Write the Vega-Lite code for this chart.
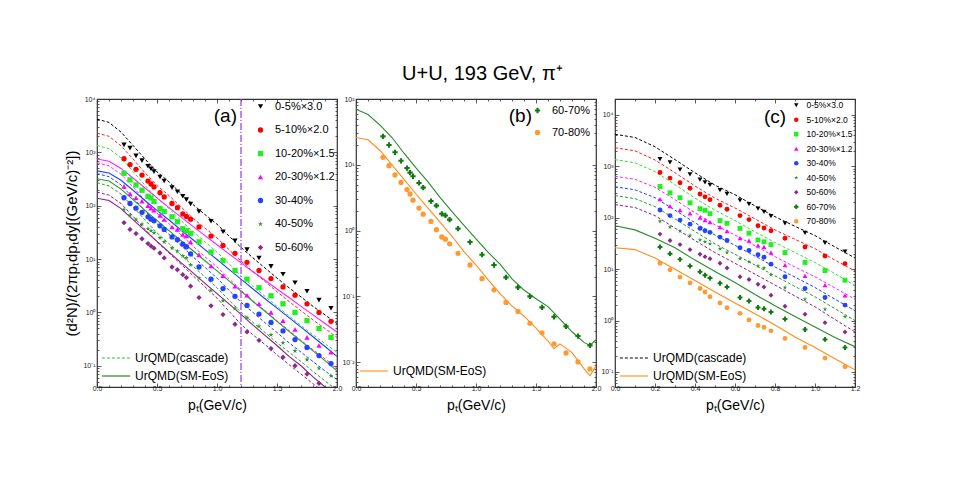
{
"$schema": "https://vega.github.io/schema/vega-lite/v6.json",
"autosize": {"type": "pad"},
"padding": {"left": 64, "top": 64, "right": 0, "bottom": 0},
"title": {"text": "U+U, 193 GeV,  π⁺", "fontSize": 20, "fontWeight": "normal", "font": "Liberation Sans", "anchor": "middle", "offset": 10, "dx": 20, "color": "#000000"},
"datasets": {
"cents": [{"k":"c1","cent":"0-5%×3.0"},{"k":"c2","cent":"5-10%×2.0"},{"k":"c3","cent":"10-20%×1.5"},{"k":"c4","cent":"20-30%×1.2"},{"k":"c5","cent":"30-40%"},{"k":"c6","cent":"40-50%"},{"k":"c7","cent":"50-60%"},{"k":"c8","cent":"60-70%"},{"k":"c9","cent":"70-80%"}],
"pts": [
{"p":0.225,"c1":1380,"c2":760,"c3":405,"c4":230,"c5":141,"c6":85,"c7":48,"c8":27,"c9":13},
{"p":0.275,"c1":1200,"c2":590,"c3":305,"c4":168,"c5":110,"c6":66,"c7":36,"c8":20,"c9":9.7},
{"p":0.325,"c1":860,"c2":480,"c3":245,"c4":141,"c5":90,"c6":55,"c7":30,"c8":15.5,"c9":7.0},
{"p":0.375,"c1":700,"c2":375,"c3":195,"c4":122,"c5":75,"c6":45,"c7":24,"c8":11.5,"c9":5.4},
{"p":0.425,"c1":550,"c2":290,"c3":150,"c4":100,"c5":62,"c6":37,"c7":19.5,"c8":8.9,"c9":4.2},
{"p":0.45,"c1":490,"c2":255,"c3":140,"c4":90,"c5":56,"c6":34,"c7":17.5,"c8":7.6,"c9":3.6},
{"p":0.475,"c1":435,"c2":225,"c3":120,"c4":82,"c5":52,"c6":31,"c7":16,"c8":6.7,"c9":2.9},
{"p":0.525,"c1":345,"c2":175,"c3":88,"c4":66,"c5":42,"c6":25,"c7":13,"c8":5.3,"c9":2.2},
{"p":0.56,"c1":290,"c2":146,"c3":78,"c4":55,"c5":36,"c6":21,"c7":10.5,"c8":4.5,"c9":1.78},
{"p":0.625,"c1":218,"c2":110,"c3":62,"c4":40,"c5":26,"c6":16,"c7":7.1,"c8":2.8,"c9":1.38},
{"p":0.67,"c1":183,"c2":92,"c3":50,"c4":36,"c5":23,"c6":14,"c7":6.3,"c8":2.4,"c9":1.03},
{"p":0.715,"c1":150,"c2":70,"c3":37,"c4":29,"c5":19,"c6":11.5,"c7":5.1,"c8":1.8,"c9":0.8},
{"p":0.745,"c1":130,"c2":63,"c3":34,"c4":27,"c5":17,"c6":10.5,"c7":4.5,"c8":1.7,"c9":0.74},
{"p":0.78,"c1":108,"c2":56,"c3":30,"c4":21,"c5":12.5,"c6":7.8,"c7":3.1,"c8":1.47,"c9":0.63},
{"p":0.85,"c1":78,"c2":40,"c3":21,"c4":12,"c5":7.1,"c6":4.4,"c7":1.9,"c8":1.07,"c9":0.45},
{"p":0.95,"c1":51,"c2":27,"c3":13.5,"c4":7.4,"c5":4.2,"c6":2.6,"c7":1.33,"c8":0.67,"c9":0.3},
{"p":1.05,"c1":32.5,"c2":18,"c3":9.4,"c4":4.9,"c5":2.8,"c6":1.66,"c7":0.91,"c8":0.43,"c9":0.186},
{"p":1.15,"c1":22,"c2":12.8,"c3":6.1,"c4":3.1,"c5":2.0,"c6":1.19,"c7":0.6,"c8":0.3,"c9":0.126},
{"p":1.25,"c1":15,"c2":8.7,"c3":4.2,"c4":2.1,"c5":1.35,"c6":0.8,"c7":0.43,"c8":0.195,"c9":0.081},
{"p":1.35,"c1":10.5,"c2":6.1,"c3":2.9,"c4":1.45,"c5":0.93,"c6":0.55,"c7":0.3,"c8":0.137,"c9":0.059},
{"p":1.45,"c1":7.3,"c2":4.3,"c3":2.05,"c4":1.0,"c5":0.65,"c6":0.38,"c7":0.21,"c8":0.1,"c9":0.039},
{"p":1.55,"c1":5.2,"c2":3.0,"c3":1.45,"c4":0.7,"c5":0.45,"c6":0.27,"c7":0.145,"c8":0.068,"c9":0.028},
{"p":1.65,"c1":3.6,"c2":2.1,"c3":1.0,"c4":0.48,"c5":0.31,"c6":0.19,"c7":0.1,"c8":0.049,"c9":0.019},
{"p":1.75,"c1":2.5,"c2":1.45,"c3":0.7,"c4":0.34,"c5":0.22,"c6":0.13,"c7":0.07,"c8":0.035,"c9":0.0138},
{"p":1.85,"c1":1.7,"c2":1.0,"c3":0.5,"c4":0.24,"c5":0.155,"c6":0.09,"c7":0.047,"c8":0.025,"c9":0.0101},
{"p":1.95,"c1":1.2,"c2":0.68,"c3":0.34,"c4":0.18,"c5":0.11,"c6":0.065,"c7":0.035,"c8":0.018,"c9":0.0079}
],
"casc": [
{"p":0,"c1":4200,"c2":2300,"c3":1350,"c4":640,"c5":400,"c6":270,"c7":180},
{"p":0.1,"c1":3640,"c2":2000,"c3":1170,"c4":560,"c5":350,"c6":235,"c7":158},
{"p":0.2,"c1":2400,"c2":1330,"c3":790,"c4":390,"c5":245,"c6":165,"c7":110},
{"p":0.3,"c1":1350,"c2":750,"c3":440,"c4":225,"c5":140,"c6":95,"c7":63},
{"p":0.4,"c1":750,"c2":415,"c3":240,"c4":125,"c5":80,"c6":54,"c7":36},
{"p":0.5,"c1":430,"c2":240,"c3":140,"c4":73,"c5":46,"c6":31,"c7":21},
{"p":0.6,"c1":280,"c2":155,"c3":88,"c4":46,"c5":29,"c6":19.5,"c7":13},
{"p":0.7,"c1":170,"c2":95,"c3":53,"c4":28.5,"c5":18,"c6":12,"c7":8},
{"p":0.8,"c1":105,"c2":58,"c3":33,"c4":17.5,"c5":11,"c6":7.4,"c7":4.9},
{"p":0.9,"c1":68,"c2":38,"c3":21,"c4":11,"c5":7,"c6":4.6,"c7":3.0},
{"p":1.0,"c1":45,"c2":25,"c3":13.5,"c4":7.1,"c5":4.4,"c6":2.9,"c7":1.85},
{"p":1.1,"c1":27,"c2":15,"c3":8.2,"c4":4.3,"c5":2.6,"c6":1.7,"c7":1.05},
{"p":1.2,"c1":16.5,"c2":9.2,"c3":4.8,"c4":2.6,"c5":1.55,"c6":1.0,"c7":0.6},
{"p":1.3,"c1":10.5,"c2":5.8,"c3":3.1,"c4":1.65,"c5":1.0,"c6":0.65,"c7":0.38},
{"p":1.4,"c1":6.8,"c2":3.8,"c3":2.0,"c4":1.08,"c5":0.64,"c6":0.42,"c7":0.25},
{"p":1.5,"c1":4.4,"c2":2.45,"c3":1.3,"c4":0.7,"c5":0.42,"c6":0.27,"c7":0.16},
{"p":1.6,"c1":2.9,"c2":1.6,"c3":0.86,"c4":0.46,"c5":0.27,"c6":0.18,"c7":0.105},
{"p":1.7,"c1":1.95,"c2":1.08,"c3":0.57,"c4":0.3,"c5":0.18,"c6":0.12,"c7":0.07},
{"p":1.8,"c1":1.3,"c2":0.72,"c3":0.38,"c4":0.2,"c5":0.12,"c6":0.078,"c7":0.046},
{"p":1.9,"c1":0.9,"c2":0.5,"c3":0.26,"c4":0.135,"c5":0.08,"c6":0.052,"c7":0.031},
{"p":2.0,"c1":0.62,"c2":0.34,"c3":0.18,"c4":0.09,"c5":0.055,"c6":0.035,"c7":0.02}
],
"sm": [
{"p":0,"c4":750,"c5":450,"c6":320,"c7":138,"c8":70,"c9":26},
{"p":0.1,"c4":680,"c5":410,"c6":290,"c7":125,"c8":58,"c9":24},
{"p":0.2,"c4":500,"c5":300,"c6":205,"c7":88,"c8":40,"c9":16.5},
{"p":0.3,"c4":330,"c5":195,"c6":130,"c7":55,"c8":26,"c9":10},
{"p":0.4,"c4":215,"c5":125,"c6":82,"c7":34,"c8":15,"c9":6.0},
{"p":0.5,"c4":140,"c5":82,"c6":53,"c7":21.5,"c8":9,"c9":3.6},
{"p":0.6,"c4":92,"c5":54,"c6":34,"c7":13.5,"c8":5.5,"c9":2.2},
{"p":0.7,"c4":61,"c5":35,"c6":22,"c7":8.6,"c8":3.2,"c9":1.35},
{"p":0.8,"c4":41,"c5":23,"c6":14.3,"c7":5.5,"c8":1.95,"c9":0.82},
{"p":0.9,"c4":27.5,"c5":15,"c6":9.3,"c7":3.5,"c8":1.2,"c9":0.48},
{"p":1.0,"c4":18.5,"c5":9.8,"c6":6.0,"c7":2.25,"c8":0.75,"c9":0.3},
{"p":1.1,"c4":12.5,"c5":6.4,"c6":3.9,"c7":1.45,"c8":0.47,"c9":0.18},
{"p":1.2,"c4":8.5,"c5":4.2,"c6":2.5,"c7":0.92,"c8":0.31,"c9":0.11},
{"p":1.3,"c4":5.8,"c5":2.75,"c6":1.6,"c7":0.58,"c8":0.185,"c9":0.072},
{"p":1.4,"c4":4.0,"c5":1.8,"c6":1.05,"c7":0.37,"c8":0.125,"c9":0.05},
{"p":1.5,"c4":2.75,"c5":1.2,"c6":0.68,"c7":0.24,"c8":0.092,"c9":0.033},
{"p":1.6,"c4":1.9,"c5":0.8,"c6":0.44,"c7":0.15,"c8":0.07,"c9":0.021},
{"p":1.65,"c9":0.016},
{"p":1.7,"c4":1.3,"c5":0.53,"c6":0.29,"c7":0.1,"c8":0.045,"c9":0.019},
{"p":1.8,"c4":0.9,"c5":0.35,"c6":0.19,"c7":0.062,"c8":0.029,"c9":0.014},
{"p":1.9,"c4":0.62,"c5":0.23,"c6":0.125,"c7":0.04,"c8":0.02,"c9":0.008},
{"p":1.95,"c8":0.018,"c9":0.0062},
{"p":2.0,"c4":0.43,"c5":0.15,"c6":0.08,"c7":0.026,"c8":0.022,"c9":0.0088}
]
},
"spacing": 19,
"bounds": "flush",
"resolve": {"scale": {"color": "independent", "shape": "independent", "stroke": "independent", "strokeDash": "independent", "strokeWidth": "independent"}, "legend": {"color": "independent", "shape": "independent", "stroke": "independent", "strokeDash": "independent", "strokeWidth": "independent"}},
"hconcat": [
{
"width": 240, "height": 288,
"resolve": {"axis": {"x": "independent", "y": "independent"}},
"layer": [
{
"data": {"name": "casc"},
"transform": [{"fold": ["c1","c2","c3","c4","c5","c6","c7"], "as": ["k","v"]}, {"filter": "isValid(datum.v)"}, {"lookup": "k", "from": {"data": {"name": "cents"}, "key": "k", "fields": ["cent"]}}],
"mark": {"type": "line", "strokeWidth": 1, "clip": true},
"encoding": {
"x": {"field": "p", "type": "quantitative", "scale": {"domain": [0, 2], "nice": false, "zero": false}, "axis": {"orient": "top", "values": [0,0.1,0.2,0.3,0.4,0.5,0.6,0.7,0.8,0.9,1,1.1,1.2,1.3,1.4,1.5,1.6,1.7,1.8,1.9,2], "labels": false, "title": null, "tickSize": {"condition": {"test": "abs(datum.value*2-round(datum.value*2))<0.001", "value": -4}, "value": -2}}},
"y": {"field": "v", "type": "quantitative", "scale": {"type": "log", "domain": [0.04, 10000], "nice": false}, "axis": {"orient": "right", "values": [0.04,0.05,0.06,0.07,0.08,0.09,0.1,0.2,0.3,0.4,0.5,0.6,0.7,0.8,0.9,1,2,3,4,5,6,7,8,9,10,20,30,40,50,60,70,80,90,100,200,300,400,500,600,700,800,900,1000,2000,3000,4000,5000,6000,7000,8000,9000,10000], "labels": false, "title": null, "tickSize": {"condition": {"test": "indexof([0.01,0.1,1,10,100,1000,10000],datum.value)>=0", "value": -4}, "value": -2}}},
"stroke": {"field": "cent", "type": "nominal", "scale": {"domain": ["50-60%","40-50%","30-40%","20-30%×1.2","10-20%×1.5","5-10%×2.0","0-5%×3.0"], "range": ["#8a208a","#2a9a2a","#2040ff","#ff22ff","#33e033","#ff2020","#000000"]}, "legend": null},
"strokeDash": {"datum": "UrQMD(cascade)", "scale": {"domain": ["UrQMD(cascade)"], "range": [[3,2]]}, "legend": {"orient": "none", "legendX": 4, "legendY": 244, "title": null, "labelFontSize": 12, "symbolType": "stroke", "symbolSize": 800, "symbolStrokeColor": "#2eb82e", "symbolStrokeWidth": 1.2, "padding": 0}}
}
},
{
"data": {"name": "sm"},
"transform": [{"fold": ["c4","c5","c6","c7"], "as": ["k","v"]}, {"filter": "isValid(datum.v)"}, {"lookup": "k", "from": {"data": {"name": "cents"}, "key": "k", "fields": ["cent"]}}],
"mark": {"type": "line", "clip": true},
"encoding": {
"x": {"field": "p", "type": "quantitative", "scale": {"domain": [0, 2], "nice": false, "zero": false}, "axis": null},
"y": {"field": "v", "type": "quantitative", "scale": {"type": "log", "domain": [0.04, 10000], "nice": false}, "axis": null},
"stroke": {"field": "cent", "type": "nominal", "scale": {"domain": ["50-60%","40-50%","30-40%","20-30%×1.2","10-20%×1.5","5-10%×2.0","0-5%×3.0"], "range": ["#8a208a","#2a9a2a","#2040ff","#ff22ff","#33e033","#ff2020","#000000"]}, "legend": null},
"strokeWidth": {"datum": "UrQMD(SM-EoS)", "scale": {"domain": ["UrQMD(SM-EoS)"], "range": [1.1, 1.1]}, "legend": {"orient": "none", "legendX": 4, "legendY": 262, "title": null, "labelFontSize": 12, "symbolType": "stroke", "symbolSize": 800, "symbolStrokeColor": "#1a7a1a", "padding": 0}}
}
},
{
"data": {"name": "pts"},
"transform": [{"fold": ["c1","c2","c3","c4","c5","c6","c7"], "as": ["k","v"]}, {"filter": "isValid(datum.v)"}, {"lookup": "k", "from": {"data": {"name": "cents"}, "key": "k", "fields": ["cent"]}}],
"mark": {"type": "point", "filled": true, "size": 28, "opacity": 1, "clip": true},
"encoding": {
"x": {"field": "p", "type": "quantitative", "scale": {"domain": [0, 2], "nice": false, "zero": false}, "axis": {"orient": "bottom", "values": [0,0.1,0.2,0.3,0.4,0.5,0.6,0.7,0.8,0.9,1,1.1,1.2,1.3,1.4,1.5,1.6,1.7,1.8,1.9,2], "labelExpr": "abs(datum.value*2-round(datum.value*2))<0.001 ? format(datum.value,'.1f') : ''", "labelFlush": false, "labelOverlap": false, "labelFontSize": 7, "labelPadding": 1, "tickSize": {"condition": {"test": "abs(datum.value*2-round(datum.value*2))<0.001", "value": -4}, "value": -2}, "title": "pₜ(GeV/c)", "titleFontSize": 14, "titleFontWeight": "normal", "titlePadding": 5}},
"y": {"field": "v", "type": "quantitative", "scale": {"type": "log", "domain": [0.04, 10000], "nice": false}, "axis": {"orient": "left", "values": [0.04,0.05,0.06,0.07,0.08,0.09,0.1,0.2,0.3,0.4,0.5,0.6,0.7,0.8,0.9,1,2,3,4,5,6,7,8,9,10,20,30,40,50,60,70,80,90,100,200,300,400,500,600,700,800,900,1000,2000,3000,4000,5000,6000,7000,8000,9000,10000], "labelExpr": "indexof([0.01,0.1,1,10,100,1000,10000],datum.value)<0?'':datum.value>=10000?'10⁴':datum.value>=1000?'10³':datum.value>=100?'10²':datum.value>=10?'10¹':datum.value>=1?'10⁰':datum.value>=0.1?'10⁻¹':'10⁻²'", "labelOverlap": false, "labelFontSize": 7, "labelPadding": 6, "tickSize": {"condition": {"test": "indexof([0.01,0.1,1,10,100,1000,10000],datum.value)>=0", "value": -4}, "value": -2}, "title": "(d²N)/(2πpₜdpₜdy[(GeV/c)⁻²])", "titleFontSize": 15, "titleFontWeight": "normal", "titlePadding": 3}},
"color": {"field": "cent", "type": "nominal", "scale": {"domain": ["0-5%×3.0","5-10%×2.0","10-20%×1.5","20-30%×1.2","30-40%","40-50%","50-60%"], "range": ["#000000","#ff0000","#22ee22","#ff00ff","#2244ff","#2a9a2a","#8b2a8b"]}, "legend": {"orient": "top-right", "title": null, "labelFontSize": 11, "symbolSize": 28, "rowPadding": 11.5, "offset": 2, "padding": 0, "labelOffset": 9}},
"shape": {"field": "cent", "type": "nominal", "scale": {"domain": ["0-5%×3.0","5-10%×2.0","10-20%×1.5","20-30%×1.2","30-40%","40-50%","50-60%"], "range": ["triangle-down","circle","square","triangle-up","circle","M0,-1L0.2245,-0.309L0.951,-0.309L0.363,0.118L0.588,0.809L0,0.382L-0.588,0.809L-0.363,0.118L-0.951,-0.309L-0.2245,-0.309Z","diamond"]}, "legend": {"orient": "top-right", "title": null, "labelFontSize": 11, "symbolSize": 28, "rowPadding": 11.5, "offset": 2, "padding": 0, "labelOffset": 9}}
}
},
{
"data": {"values": [{}]},
"mark": {"type": "rule", "color": "#9933ff", "strokeWidth": 1.2, "strokeDash": [7,2,1,2]},
"encoding": {"x": {"datum": 1.2, "type": "quantitative", "scale": {"domain": [0, 2], "nice": false, "zero": false}, "axis": null}}
},
{
"data": {"values": [{}]},
"mark": {"type": "text", "fontSize": 19, "font": "Liberation Sans", "text": "(a)"},
"encoding": {"x": {"datum": 1.07, "type": "quantitative", "scale": {"domain": [0, 2], "nice": false, "zero": false}, "axis": null}, "y": {"datum": 4700, "type": "quantitative", "scale": {"type": "log", "domain": [0.04, 10000], "nice": false}, "axis": null}}
}
]
},
{
"width": 240, "height": 288,
"resolve": {"axis": {"x": "independent", "y": "independent"}},
"layer": [
{
"data": {"name": "sm"},
"transform": [{"fold": ["c8","c9"], "as": ["k","v"]}, {"filter": "isValid(datum.v)"}, {"lookup": "k", "from": {"data": {"name": "cents"}, "key": "k", "fields": ["cent"]}}],
"mark": {"type": "line", "clip": true},
"encoding": {
"x": {"field": "p", "type": "quantitative", "scale": {"domain": [0, 2], "nice": false, "zero": false}, "axis": {"orient": "top", "values": [0,0.1,0.2,0.3,0.4,0.5,0.6,0.7,0.8,0.9,1,1.1,1.2,1.3,1.4,1.5,1.6,1.7,1.8,1.9,2], "labels": false, "title": null, "tickSize": {"condition": {"test": "abs(datum.value*2-round(datum.value*2))<0.001", "value": -4}, "value": -2}}},
"y": {"field": "v", "type": "quantitative", "scale": {"type": "log", "domain": [0.0042, 100], "nice": false}, "axis": {"orient": "right", "values": [0.005,0.006,0.007,0.008,0.009,0.01,0.02,0.03,0.04,0.05,0.06,0.07,0.08,0.09,0.1,0.2,0.3,0.4,0.5,0.6,0.7,0.8,0.9,1,2,3,4,5,6,7,8,9,10,20,30,40,50,60,70,80,90,100], "labels": false, "title": null, "tickSize": {"condition": {"test": "indexof([0.01,0.1,1,10,100,1000,10000],datum.value)>=0", "value": -4}, "value": -2}}},
"stroke": {"field": "cent", "type": "nominal", "scale": {"domain": ["70-80%","60-70%"], "range": ["#ff8c1a","#2a8a2a"]}, "legend": null},
"strokeWidth": {"datum": "UrQMD(SM-EoS)", "scale": {"domain": ["UrQMD(SM-EoS)"], "range": [1.1, 1.1]}, "legend": {"orient": "none", "legendX": 3, "legendY": 257, "title": null, "labelFontSize": 12, "symbolType": "stroke", "symbolSize": 800, "symbolStrokeColor": "#ff8c1a", "padding": 0}}
}
},
{
"data": {"name": "pts"},
"transform": [{"fold": ["c8","c9"], "as": ["k","v"]}, {"filter": "isValid(datum.v)"}, {"lookup": "k", "from": {"data": {"name": "cents"}, "key": "k", "fields": ["cent"]}}],
"mark": {"type": "point", "filled": true, "size": 28, "opacity": 1, "clip": true},
"encoding": {
"x": {"field": "p", "type": "quantitative", "scale": {"domain": [0, 2], "nice": false, "zero": false}, "axis": {"orient": "bottom", "values": [0,0.1,0.2,0.3,0.4,0.5,0.6,0.7,0.8,0.9,1,1.1,1.2,1.3,1.4,1.5,1.6,1.7,1.8,1.9,2], "labelExpr": "abs(datum.value*2-round(datum.value*2))<0.001 ? format(datum.value,'.1f') : ''", "labelFlush": false, "labelOverlap": false, "labelFontSize": 7, "labelPadding": 1, "tickSize": {"condition": {"test": "abs(datum.value*2-round(datum.value*2))<0.001", "value": -4}, "value": -2}, "title": "pₜ(GeV/c)", "titleFontSize": 14, "titleFontWeight": "normal", "titlePadding": 5}},
"y": {"field": "v", "type": "quantitative", "scale": {"type": "log", "domain": [0.0042, 100], "nice": false}, "axis": {"orient": "left", "values": [0.005,0.006,0.007,0.008,0.009,0.01,0.02,0.03,0.04,0.05,0.06,0.07,0.08,0.09,0.1,0.2,0.3,0.4,0.5,0.6,0.7,0.8,0.9,1,2,3,4,5,6,7,8,9,10,20,30,40,50,60,70,80,90,100], "labelExpr": "indexof([0.01,0.1,1,10,100,1000,10000],datum.value)<0?'':datum.value>=10000?'10⁴':datum.value>=1000?'10³':datum.value>=100?'10²':datum.value>=10?'10¹':datum.value>=1?'10⁰':datum.value>=0.1?'10⁻¹':'10⁻²'", "labelOverlap": false, "labelFontSize": 7, "labelPadding": 6, "tickSize": {"condition": {"test": "indexof([0.01,0.1,1,10,100,1000,10000],datum.value)>=0", "value": -4}, "value": -2}, "title": null}},
"color": {"field": "cent", "type": "nominal", "scale": {"domain": ["60-70%","70-80%"], "range": ["#117a11","#ff9a33"]}, "legend": {"orient": "top-right", "title": null, "labelFontSize": 11, "symbolSize": 28, "rowPadding": 10, "offset": 6, "padding": 0, "labelOffset": 9}},
"shape": {"field": "cent", "type": "nominal", "scale": {"domain": ["60-70%","70-80%"], "range": ["cross","circle"]}, "legend": {"orient": "top-right", "title": null, "labelFontSize": 11, "symbolSize": 28, "rowPadding": 10, "offset": 6, "padding": 0, "labelOffset": 9}}
}
},
{
"data": {"values": [{}]},
"mark": {"type": "text", "fontSize": 19, "font": "Liberation Sans", "text": "(b)"},
"encoding": {"x": {"datum": 1.37, "type": "quantitative", "scale": {"domain": [0, 2], "nice": false, "zero": false}, "axis": null}, "y": {"datum": 55, "type": "quantitative", "scale": {"type": "log", "domain": [0.0042, 100], "nice": false}, "axis": null}}
}
]
},
{
"width": 240, "height": 288,
"resolve": {"axis": {"x": "independent", "y": "independent"}},
"layer": [
{
"data": {"name": "casc"},
"transform": [{"filter": "datum.p <= 1.2"}, {"fold": ["c1","c2","c3","c4","c5","c6","c7"], "as": ["k","v"]}, {"filter": "isValid(datum.v)"}, {"lookup": "k", "from": {"data": {"name": "cents"}, "key": "k", "fields": ["cent"]}}],
"mark": {"type": "line", "strokeWidth": 1, "clip": true},
"encoding": {
"x": {"field": "p", "type": "quantitative", "scale": {"domain": [0, 1.2], "nice": false, "zero": false}, "axis": {"orient": "top", "values": [0,0.1,0.2,0.3,0.4,0.5,0.6,0.7,0.8,0.9,1,1.1,1.2], "labels": false, "title": null, "tickSize": {"condition": {"test": "abs(datum.value*5-round(datum.value*5))<0.001", "value": -4}, "value": -2}}},
"y": {"field": "v", "type": "quantitative", "scale": {"type": "log", "domain": [0.051, 20400], "nice": false}, "axis": {"orient": "right", "values": [0.06,0.07,0.08,0.09,0.1,0.2,0.3,0.4,0.5,0.6,0.7,0.8,0.9,1,2,3,4,5,6,7,8,9,10,20,30,40,50,60,70,80,90,100,200,300,400,500,600,700,800,900,1000,2000,3000,4000,5000,6000,7000,8000,9000,10000,20000], "labels": false, "title": null, "tickSize": {"condition": {"test": "indexof([0.01,0.1,1,10,100,1000,10000],datum.value)>=0", "value": -4}, "value": -2}}},
"stroke": {"field": "cent", "type": "nominal", "scale": {"domain": ["70-80%","60-70%","50-60%","40-50%","30-40%","20-30%×1.2","10-20%×1.5","5-10%×2.0","0-5%×3.0"], "range": ["#ff8c1a","#2a8a2a","#8a208a","#2a9a2a","#2040ff","#ff22ff","#33e033","#ff2020","#000000"]}, "legend": null},
"strokeDash": {"datum": "UrQMD(cascade)", "scale": {"domain": ["UrQMD(cascade)"], "range": [[3,2]]}, "legend": {"orient": "none", "legendX": 4, "legendY": 244, "title": null, "labelFontSize": 12, "symbolType": "stroke", "symbolSize": 800, "symbolStrokeColor": "#000000", "symbolStrokeWidth": 1.2, "padding": 0}}
}
},
{
"data": {"name": "sm"},
"transform": [{"filter": "datum.p <= 1.2"}, {"fold": ["c8","c9"], "as": ["k","v"]}, {"filter": "isValid(datum.v)"}, {"lookup": "k", "from": {"data": {"name": "cents"}, "key": "k", "fields": ["cent"]}}],
"mark": {"type": "line", "clip": true},
"encoding": {
"x": {"field": "p", "type": "quantitative", "scale": {"domain": [0, 1.2], "nice": false, "zero": false}, "axis": null},
"y": {"field": "v", "type": "quantitative", "scale": {"type": "log", "domain": [0.051, 20400], "nice": false}, "axis": null},
"stroke": {"field": "cent", "type": "nominal", "scale": {"domain": ["70-80%","60-70%","50-60%","40-50%","30-40%","20-30%×1.2","10-20%×1.5","5-10%×2.0","0-5%×3.0"], "range": ["#ff8c1a","#2a8a2a","#8a208a","#2a9a2a","#2040ff","#ff22ff","#33e033","#ff2020","#000000"]}, "legend": null},
"strokeWidth": {"datum": "UrQMD(SM-EoS)", "scale": {"domain": ["UrQMD(SM-EoS)"], "range": [1.1, 1.1]}, "legend": {"orient": "none", "legendX": 4, "legendY": 262, "title": null, "labelFontSize": 12, "symbolType": "stroke", "symbolSize": 800, "symbolStrokeColor": "#ff8c1a", "padding": 0}}
}
},
{
"data": {"name": "pts"},
"transform": [{"filter": "datum.p <= 1.2"}, {"fold": ["c1","c2","c3","c4","c5","c6","c7","c8","c9"], "as": ["k","v"]}, {"filter": "isValid(datum.v)"}, {"lookup": "k", "from": {"data": {"name": "cents"}, "key": "k", "fields": ["cent"]}}],
"mark": {"type": "point", "filled": true, "size": 24, "opacity": 1, "clip": true},
"encoding": {
"x": {"field": "p", "type": "quantitative", "scale": {"domain": [0, 1.2], "nice": false, "zero": false}, "axis": {"orient": "bottom", "values": [0,0.1,0.2,0.3,0.4,0.5,0.6,0.7,0.8,0.9,1,1.1,1.2], "labelExpr": "abs(datum.value*5-round(datum.value*5))<0.001 ? format(datum.value,'.1f') : ''", "labelFlush": false, "labelOverlap": false, "labelFontSize": 7, "labelPadding": 1, "tickSize": {"condition": {"test": "abs(datum.value*5-round(datum.value*5))<0.001", "value": -4}, "value": -2}, "title": "pₜ(GeV/c)", "titleFontSize": 14, "titleFontWeight": "normal", "titlePadding": 5}},
"y": {"field": "v", "type": "quantitative", "scale": {"type": "log", "domain": [0.051, 20400], "nice": false}, "axis": {"orient": "left", "values": [0.06,0.07,0.08,0.09,0.1,0.2,0.3,0.4,0.5,0.6,0.7,0.8,0.9,1,2,3,4,5,6,7,8,9,10,20,30,40,50,60,70,80,90,100,200,300,400,500,600,700,800,900,1000,2000,3000,4000,5000,6000,7000,8000,9000,10000,20000], "labelExpr": "indexof([0.01,0.1,1,10,100,1000,10000],datum.value)<0?'':datum.value>=10000?'10⁴':datum.value>=1000?'10³':datum.value>=100?'10²':datum.value>=10?'10¹':datum.value>=1?'10⁰':datum.value>=0.1?'10⁻¹':'10⁻²'", "labelOverlap": false, "labelFontSize": 7, "labelPadding": 6, "tickSize": {"condition": {"test": "indexof([0.01,0.1,1,10,100,1000,10000],datum.value)>=0", "value": -4}, "value": -2}, "title": null}},
"color": {"field": "cent", "type": "nominal", "scale": {"domain": ["0-5%×3.0","5-10%×2.0","10-20%×1.5","20-30%×1.2","30-40%","40-50%","50-60%","60-70%","70-80%"], "range": ["#000000","#ff0000","#22ee22","#ff00ff","#2244ff","#2a9a2a","#8b2a8b","#117a11","#ff9a33"]}, "legend": {"orient": "top-right", "title": null, "labelFontSize": 8.5, "symbolSize": 20, "rowPadding": 5.5, "offset": 2, "padding": 0, "labelOffset": 6}},
"shape": {"field": "cent", "type": "nominal", "scale": {"domain": ["0-5%×3.0","5-10%×2.0","10-20%×1.5","20-30%×1.2","30-40%","40-50%","50-60%","60-70%","70-80%"], "range": ["triangle-down","circle","square","triangle-up","circle","M0,-1L0.2245,-0.309L0.951,-0.309L0.363,0.118L0.588,0.809L0,0.382L-0.588,0.809L-0.363,0.118L-0.951,-0.309L-0.2245,-0.309Z","diamond","cross","circle"]}, "legend": {"orient": "top-right", "title": null, "labelFontSize": 8.5, "symbolSize": 20, "rowPadding": 5.5, "offset": 2, "padding": 0, "labelOffset": 6}}
}
},
{
"data": {"values": [{}]},
"mark": {"type": "text", "fontSize": 19, "font": "Liberation Sans", "text": "(c)"},
"encoding": {"x": {"datum": 0.8, "type": "quantitative", "scale": {"domain": [0, 1.2], "nice": false, "zero": false}, "axis": null}, "y": {"datum": 9300, "type": "quantitative", "scale": {"type": "log", "domain": [0.051, 20400], "nice": false}, "axis": null}}
}
]
}
],
"config": {
"font": "Liberation Sans",
"view": {"stroke": "#333333", "strokeWidth": 1.2},
"axis": {"grid": false, "domain": false, "tickColor": "#333333", "tickWidth": 0.8, "labelColor": "#222222", "labelFont": "Liberation Sans", "titleFont": "Liberation Sans", "titleColor": "#000000"},
"legend": {"labelFont": "Liberation Sans", "labelColor": "#000000"}
}
}
